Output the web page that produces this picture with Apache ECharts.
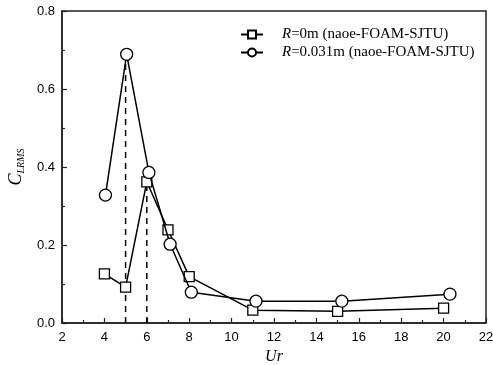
<!DOCTYPE html>
<html>
<head>
<meta charset="utf-8">
<script src="https://cdn.jsdelivr.net/npm/echarts@6/dist/echarts.min.js"></script>
<style>
  html, body { margin: 0; padding: 0; background: #fff; }
  #chart { width: 493px; height: 365px; }
</style>
</head>
<body>
<div id="chart"></div>
<script>
// R = 0m series (squares)
const squareUr = [4, 5, 6, 7, 8, 11, 15, 20]
const squareC = [0.126, 0.092, 0.362, 0.239, 0.119, 0.033, 0.030, 0.038]

// R = 0.031m series (circles)
const circleUr = [4.05, 5.05, 6.1, 7.1, 8.1, 11.15, 15.2, 20.3]
const circleC = [0.328, 0.689, 0.386, 0.202, 0.079, 0.056, 0.056, 0.074]

// dashed guide lines at Ur = 5 and Ur = 6
const guideUr = [5, 6]
const guideTop = [0.68, 0.355]

const seriesNames = ['R=0m (naoe-FOAM-SJTU)', 'R=0.031m (naoe-FOAM-SJTU)']

const SERIF = '"Liberation Serif", "Times New Roman", serif'
const SANS = '"Liberation Sans", Arial, sans-serif'

const zip = (xs, ys) => xs.map((x, i) => [x, ys[i]])

const chart = echarts.init(document.getElementById('chart'))

const guideSeries = guideUr.map((x, i) => ({
  type: 'line',
  name: 'guide' + i,
  data: [[x, 0], [x, guideTop[i]]],
  symbol: 'none',
  silent: true,
  z: 1,
  lineStyle: { color: '#000', width: 1.5, type: [6, 5] },
}))

chart.setOption({
  animation: false,
  backgroundColor: '#fff',
  grid: {
    left: 62,
    top: 11,
    right: 7,
    bottom: 42,
    containLabel: false,
    outerBoundsMode: 'none',
    show: true,
    borderColor: '#222',
    borderWidth: 1.5,
  },
  legend: {
    data: seriesNames,
    orient: 'vertical',
    left: 235,
    top: 22,
    itemWidth: 22,
    itemHeight: 10,
    itemGap: 3,
    textStyle: {
      fontFamily: SERIF,
      fontSize: 15,
      color: '#000',
      padding: [0, 0, 0, 14],
      rich: {
        i: { fontFamily: SERIF, fontSize: 15, fontStyle: 'italic', color: '#000' },
        n: { fontFamily: SERIF, fontSize: 15, color: '#000' },
      },
    },
    formatter: (name) => '{i|R}{n|' + name.slice(1) + '}',
  },
  xAxis: {
    type: 'value',
    min: 2,
    max: 22,
    interval: 2,
    name: 'Ur',
    nameLocation: 'middle',
    nameGap: 24,
    nameTextStyle: { fontFamily: SERIF, fontStyle: 'italic', fontSize: 16, color: '#000' },
    axisLine: { lineStyle: { color: '#222', width: 1.5 } },
    axisTick: { inside: true, length: 5, lineStyle: { color: '#222', width: 1.2 } },
    minorTick: { show: true, splitNumber: 2, length: 3, lineStyle: { color: '#222', width: 1.2 } },
    axisLabel: { fontFamily: SANS, fontSize: 13, color: '#000', margin: 8 },
    splitLine: { show: false },
  },
  yAxis: {
    type: 'value',
    min: 0,
    max: 0.8,
    interval: 0.2,
    name: '{c|C}{s|LRMS}',
    nameLocation: 'middle',
    nameRotate: 90,
    nameGap: 36,
    nameTextStyle: {
      rich: {
        c: { fontFamily: SERIF, fontStyle: 'italic', fontSize: 18, color: '#000' },
        s: { fontFamily: SERIF, fontStyle: 'italic', fontSize: 10, color: '#000', padding: [9, 0, 0, 0] },
      },
    },
    axisLine: { show: true, lineStyle: { color: '#222', width: 1.5 } },
    axisTick: { show: true, inside: true, length: 5, lineStyle: { color: '#222', width: 1.2 } },
    minorTick: { show: true, splitNumber: 2, length: 3, lineStyle: { color: '#222', width: 1.2 } },
    axisLabel: {
      fontFamily: SANS,
      fontSize: 13,
      color: '#000',
      margin: 7,
      formatter: (v) => v.toFixed(1),
    },
    splitLine: { show: false },
  },
  series: [
    ...guideSeries,
    {
      type: 'line',
      name: seriesNames[0],
      data: zip(squareUr, squareC),
      symbol: 'rect',
      symbolSize: 10,
      z: 3,
      itemStyle: { color: '#fff', borderColor: '#000', borderWidth: 1.3 },
      lineStyle: { color: '#000', width: 1.5 },
    },
    {
      type: 'line',
      name: seriesNames[1],
      data: zip(circleUr, circleC),
      symbol: 'circle',
      symbolSize: 12,
      z: 4,
      itemStyle: { color: '#fff', borderColor: '#000', borderWidth: 1.3 },
      lineStyle: { color: '#000', width: 1.5 },
    },
  ],
})
</script>
</body>
</html>
